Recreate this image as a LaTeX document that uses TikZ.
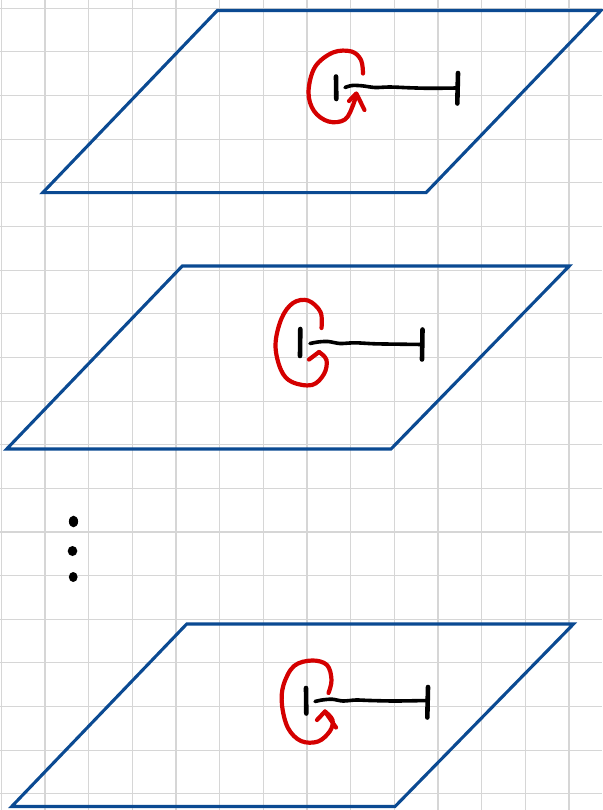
\documentclass[tikz,border=0pt]{standalone}
\definecolor{gridc}{HTML}{D6D6D6}
\definecolor{planec}{HTML}{0B4A92}
\definecolor{loopc}{HTML}{D40000}
\tikzset{
  gridline/.style={gridc, line width=1.1pt},
  plane/.style={planec, line width=3.1pt, line join=miter},
  loopline/.style={loopc, line width=4.2pt, line cap=round, line join=round},
  barline/.style={black, line width=3.6pt, line cap=round, line join=round},
  tick/.style={black, line width=4.6pt, line cap=round},
  dot/.style={black, fill=black},
}
\begin{document}
\begin{tikzpicture}[x=1pt,y=-1pt]
\useasboundingbox (0,0) rectangle (602,810);
\fill[white] (0,0) rectangle (602,810);
% grid
\foreach \k in {0,...,13} { \draw[gridline] ({1.3+43.67*\k},0) -- ({1.3+43.67*\k},810); }
\foreach \k in {0,...,18} { \draw[gridline] (0,{8.3+43.64*\k}) -- (602,{8.3+43.64*\k}); }

% plane 1
\coordinate (a1) at (42.7,192.7); \coordinate (b1) at (426,192.7);
\coordinate (c1) at (601,10.5); \coordinate (d1) at (217.3,10.5);
\draw[plane] (a1) -- (b1) -- (c1) -- (d1) -- cycle;
% plane 2
\coordinate (a2) at (6.7,449); \coordinate (b2) at (391,449);
\coordinate (c2) at (569.3,266); \coordinate (d2) at (182.3,266);
\draw[plane] (a2) -- (b2) -- (c2) -- (d2) -- cycle;
% plane 3
\coordinate (a3) at (11.7,806.5); \coordinate (b3) at (395,806.5);
\coordinate (c3) at (573.5,624); \coordinate (d3) at (186.7,624);
\draw[plane] (a3) -- (b3) -- (c3) -- (d3) -- cycle;

% symbol 1
\draw[tick] (336,76.5) -- (336.3,99);
\draw[tick] (458,73) -- (457.3,103.5);
\draw[barline] plot[smooth] coordinates {(345,87.5) (352,85.5) (362,85.8) (375,87.5) (390,87) (410,87.8) (430,88.3) (457,88)};
\draw[loopline] plot[smooth, tension=0.6] coordinates {(363,73.5) (361,60) (351.5,51.5) (333,52.5) (315,67) (308.5,92) (314,111) (328.5,121.5) (345,119.5) (353.5,104) (356,94)};
\draw[loopline] (349,101) -- (356.3,93.5) -- (364.5,110);

% symbol 2
\draw[tick] (300.3,329) -- (300,356);
\draw[tick] (422.5,329.5) -- (422,359.5);
\draw[barline] plot[smooth] coordinates {(310,343.5) (318,342) (328,341.5) (340,343.5) (355,342.8) (375,343.8) (400,344.2) (422,344.5)};
\draw[loopline] plot[smooth, tension=0.6] coordinates {(321.5,328) (320.5,312) (308,300.5) (293,303) (281.5,318.5) (275.5,345) (281,370) (292,382) (312,385) (324,374) (326.5,360) (319,352)};
\draw[loopline] (319,352) -- (309,359.5);

% symbol 3
\draw[tick] (306,688) -- (306.3,713.5);
\draw[tick] (428,687) -- (427.3,717.5);
\draw[barline] plot[smooth] coordinates {(315,701.5) (322,700) (332,699.2) (343,701) (356,700) (370,700.5) (395,701) (427.5,700.5)};
\draw[loopline] plot[smooth, tension=0.6] coordinates {(328.5,693) (331.5,680) (327,665) (312,660.5) (294,666) (283.5,685) (282,705) (288,728) (301,741) (318,741.5) (330,731) (332.5,720) (325,711.5)};
\draw[loopline] (317,720) -- (325,711.5) -- (336,727.5);

% dots
\fill[dot] (73.5,521.5) ellipse (4.6pt and 5.8pt);
\fill[dot] (72.5,551) ellipse (4.8pt and 5pt);
\fill[dot] (73.2,577) ellipse (4.4pt and 5pt);
\end{tikzpicture}
\end{document}
